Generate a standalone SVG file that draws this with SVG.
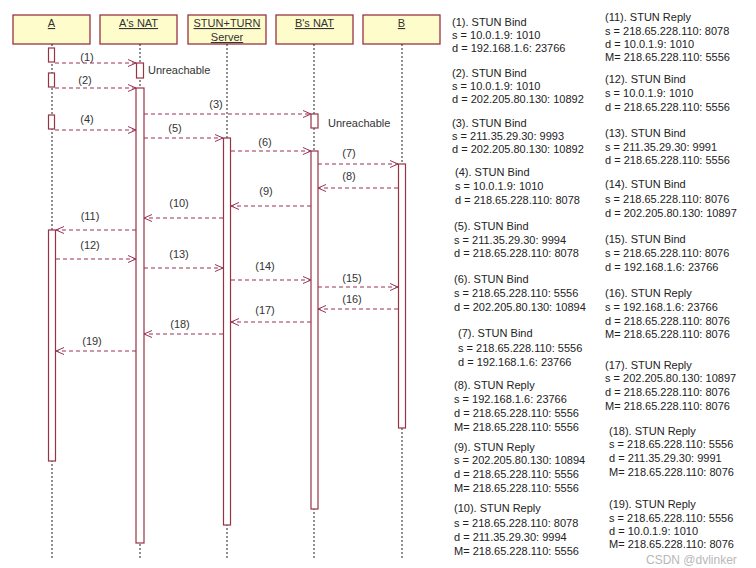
<svg xmlns="http://www.w3.org/2000/svg" width="756" height="568" viewBox="0 0 756 568">
<style>
.hdr{fill:#FFFCCB;stroke:#993344;stroke-width:1.3}
.ht{font-family:"Liberation Sans",Arial,sans-serif;font-size:11px;fill:#333;text-anchor:middle;text-decoration:underline}
.life{stroke:#222;stroke-width:1;stroke-dasharray:2,2;fill:none}
.act{fill:#fff;stroke:#993344;stroke-width:1.2}
.msg{stroke:#993355;stroke-width:1.1;stroke-dasharray:4,3;fill:none;marker-end:url(#ah)}
.lb{font-family:"Liberation Sans",Arial,sans-serif;font-size:11px;fill:#333;text-anchor:middle}
.nt{font-family:"Liberation Sans",Arial,sans-serif;font-size:11px;fill:#222}
.wm{font-family:"Liberation Sans",Arial,sans-serif;font-size:12px;fill:#b8b8b8}
</style>
<defs>
<marker id="ah" markerWidth="10" markerHeight="10" refX="9" refY="5" orient="auto" markerUnits="userSpaceOnUse">
<path d="M1,1.5 L9,5 L1,8.5" fill="none" stroke="#993355" stroke-width="1"/>
</marker>
</defs>
<rect width="756" height="568" fill="#fff"/>

<g id="node-A">
<rect class="hdr" x="13" y="15" width="77" height="29"/>
<text class="ht" x="51.5" y="27">A</text>
<line class="life" x1="52" y1="44" x2="52" y2="558"/>
<rect class="act" x="48.5" y="48" width="6" height="14"/>
<rect class="act" x="48.5" y="73" width="6" height="14"/>
<rect class="act" x="48.5" y="115" width="6" height="14"/>
<rect class="act" x="48.5" y="230" width="7" height="231"/>
</g>
<g id="node-AsNAT">
<rect class="hdr" x="100" y="15" width="77" height="29"/>
<text class="ht" x="138.5" y="27">A's NAT</text>
<line class="life" x1="140" y1="44" x2="140" y2="558"/>
<rect class="act" x="136.5" y="63" width="7" height="15"/>
<rect class="act" x="136" y="88" width="8" height="455"/>
<text class="lb" x="148" y="74" style="text-anchor:start">Unreachable</text>
</g>
<g id="node-Server">
<rect class="hdr" x="188" y="15" width="78" height="29"/>
<text class="ht" x="227" y="27">STUN+TURN</text>
<text class="ht" x="227" y="41">Server</text>
<line class="life" x1="227" y1="44" x2="227" y2="558"/>
<rect class="act" x="223.5" y="138" width="7" height="387"/>
</g>
<g id="node-BsNAT">
<rect class="hdr" x="276" y="15" width="77" height="29"/>
<text class="ht" x="314.5" y="27">B's NAT</text>
<line class="life" x1="314" y1="44" x2="314" y2="558"/>
<rect class="act" x="311" y="114" width="7" height="14"/>
<rect class="act" x="311" y="151" width="7" height="358"/>
<text class="lb" x="328" y="127" style="text-anchor:start">Unreachable</text>
</g>
<g id="node-B">
<rect class="hdr" x="363" y="15" width="77" height="29"/>
<text class="ht" x="401.5" y="27">B</text>
<line class="life" x1="402" y1="44" x2="402" y2="558"/>
<rect class="act" x="398.5" y="164" width="7" height="264"/>
</g>

<g id="connectors">
<line class="msg" x1="55" y1="63" x2="136" y2="63"/>
<line class="msg" x1="55" y1="88" x2="136" y2="88"/>
<line class="msg" x1="144" y1="114" x2="311" y2="114"/>
<line class="msg" x1="55" y1="130" x2="136" y2="130"/>
<line class="msg" x1="144" y1="138" x2="223" y2="138"/>
<line class="msg" x1="231" y1="151" x2="311" y2="151"/>
<line class="msg" x1="318" y1="164" x2="398" y2="164"/>
<line class="msg" x1="398" y1="188" x2="318" y2="188"/>
<line class="msg" x1="311" y1="206" x2="231" y2="206"/>
<line class="msg" x1="223" y1="218" x2="144" y2="218"/>
<line class="msg" x1="136" y1="230" x2="56" y2="230"/>
<line class="msg" x1="56" y1="259" x2="136" y2="259"/>
<line class="msg" x1="144" y1="268" x2="223" y2="268"/>
<line class="msg" x1="231" y1="280" x2="311" y2="280"/>
<line class="msg" x1="318" y1="287" x2="398" y2="287"/>
<line class="msg" x1="398" y1="309" x2="318" y2="309"/>
<line class="msg" x1="311" y1="322" x2="231" y2="322"/>
<line class="msg" x1="223" y1="334" x2="144" y2="334"/>
<line class="msg" x1="136" y1="351" x2="56" y2="351"/>
<text class="lb" x="87" y="61">(1)</text>
<text class="lb" x="85" y="84">(2)</text>
<text class="lb" x="216" y="108">(3)</text>
<text class="lb" x="87" y="123">(4)</text>
<text class="lb" x="175" y="132">(5)</text>
<text class="lb" x="265" y="146">(6)</text>
<text class="lb" x="349" y="157">(7)</text>
<text class="lb" x="349" y="180">(8)</text>
<text class="lb" x="266" y="195">(9)</text>
<text class="lb" x="179" y="207">(10)</text>
<text class="lb" x="90" y="220">(11)</text>
<text class="lb" x="90" y="249">(12)</text>
<text class="lb" x="179" y="258">(13)</text>
<text class="lb" x="265" y="270">(14)</text>
<text class="lb" x="352" y="282">(15)</text>
<text class="lb" x="352" y="303">(16)</text>
<text class="lb" x="265" y="314">(17)</text>
<text class="lb" x="180" y="328">(18)</text>
<text class="lb" x="92" y="345">(19)</text>
</g>

<g id="notes">
<text class="nt"><tspan x="452" y="26">(1). STUN Bind</tspan><tspan x="452" y="39">s = 10.0.1.9: 1010</tspan><tspan x="452" y="52">d = 192.168.1.6: 23766</tspan></text>
<text class="nt"><tspan x="452" y="77">(2). STUN Bind</tspan><tspan x="452" y="90">s = 10.0.1.9: 1010</tspan><tspan x="452" y="103">d = 202.205.80.130: 10892</tspan></text>
<text class="nt"><tspan x="452" y="127">(3). STUN Bind</tspan><tspan x="452" y="140">s = 211.35.29.30: 9993</tspan><tspan x="452" y="153">d = 202.205.80.130: 10892</tspan></text>
<text class="nt"><tspan x="455" y="176">(4). STUN Bind</tspan><tspan x="455" y="190">s = 10.0.1.9: 1010</tspan><tspan x="455" y="204">d = 218.65.228.110: 8078</tspan></text>
<text class="nt"><tspan x="454" y="230">(5). STUN Bind</tspan><tspan x="454" y="244">s = 211.35.29.30: 9994</tspan><tspan x="454" y="257">d = 218.65.228.110: 8078</tspan></text>
<text class="nt"><tspan x="454" y="283">(6). STUN Bind</tspan><tspan x="454" y="297">s = 218.65.228.110: 5556</tspan><tspan x="454" y="311">d = 202.205.80.130: 10894</tspan></text>
<text class="nt"><tspan x="458" y="337">(7). STUN Bind</tspan><tspan x="458" y="352">s = 218.65.228.110: 5556</tspan><tspan x="458" y="366">d = 192.168.1.6: 23766</tspan></text>
<text class="nt"><tspan x="454" y="389">(8). STUN Reply</tspan><tspan x="454" y="403">s = 192.168.1.6: 23766</tspan><tspan x="454" y="417">d = 218.65.228.110: 5556</tspan><tspan x="454" y="431">M= 218.65.228.110: 5556</tspan></text>
<text class="nt"><tspan x="454" y="451">(9). STUN Reply</tspan><tspan x="454" y="464">s = 202.205.80.130: 10894</tspan><tspan x="454" y="478">d = 218.65.228.110: 5556</tspan><tspan x="454" y="492">M= 218.65.228.110: 5556</tspan></text>
<text class="nt"><tspan x="454" y="512">(10). STUN Reply</tspan><tspan x="454" y="527">s = 218.65.228.110: 8078</tspan><tspan x="454" y="541">d = 211.35.29.30: 9994</tspan><tspan x="454" y="555">M= 218.65.228.110: 5556</tspan></text>

<text class="nt"><tspan x="605" y="21">(11). STUN Reply</tspan><tspan x="605" y="35">s = 218.65.228.110: 8078</tspan><tspan x="605" y="48">d = 10.0.1.9: 1010</tspan><tspan x="605" y="61">M= 218.65.228.110: 5556</tspan></text>
<text class="nt"><tspan x="605" y="83">(12). STUN Bind</tspan><tspan x="605" y="97">s = 10.0.1.9: 1010</tspan><tspan x="605" y="111">d = 218.65.228.110: 5556</tspan></text>
<text class="nt"><tspan x="605" y="137">(13). STUN Bind</tspan><tspan x="605" y="151">s = 211.35.29.30: 9991</tspan><tspan x="605" y="164">d = 218.65.228.110: 5556</tspan></text>
<text class="nt"><tspan x="605" y="188">(14). STUN Bind</tspan><tspan x="605" y="203">s = 218.65.228.110: 8076</tspan><tspan x="605" y="217">d = 202.205.80.130: 10897</tspan></text>
<text class="nt"><tspan x="605" y="243">(15). STUN Bind</tspan><tspan x="605" y="257">s = 218.65.228.110: 8076</tspan><tspan x="605" y="271">d = 192.168.1.6: 23766</tspan></text>
<text class="nt"><tspan x="605" y="297">(16). STUN Reply</tspan><tspan x="605" y="311">s = 192.168.1.6: 23766</tspan><tspan x="605" y="325">d = 218.65.228.110: 8076</tspan><tspan x="605" y="338">M= 218.65.228.110: 8076</tspan></text>
<text class="nt"><tspan x="605" y="369">(17). STUN Reply</tspan><tspan x="605" y="382">s = 202.205.80.130: 10897</tspan><tspan x="605" y="396">d = 218.65.228.110: 8076</tspan><tspan x="605" y="410">M= 218.65.228.110: 8076</tspan></text>
<text class="nt"><tspan x="609" y="435">(18). STUN Reply</tspan><tspan x="609" y="448">s = 218.65.228.110: 5556</tspan><tspan x="609" y="462">d = 211.35.29.30: 9991</tspan><tspan x="609" y="476">M= 218.65.228.110: 8076</tspan></text>
<text class="nt"><tspan x="609" y="508">(19). STUN Reply</tspan><tspan x="609" y="522">s = 218.65.228.110: 5556</tspan><tspan x="609" y="535">d = 10.0.1.9: 1010</tspan><tspan x="609" y="548">M= 218.65.228.110: 8076</tspan></text>
</g>
<text class="wm" x="646" y="564">CSDN @dvlinker</text>
</svg>
